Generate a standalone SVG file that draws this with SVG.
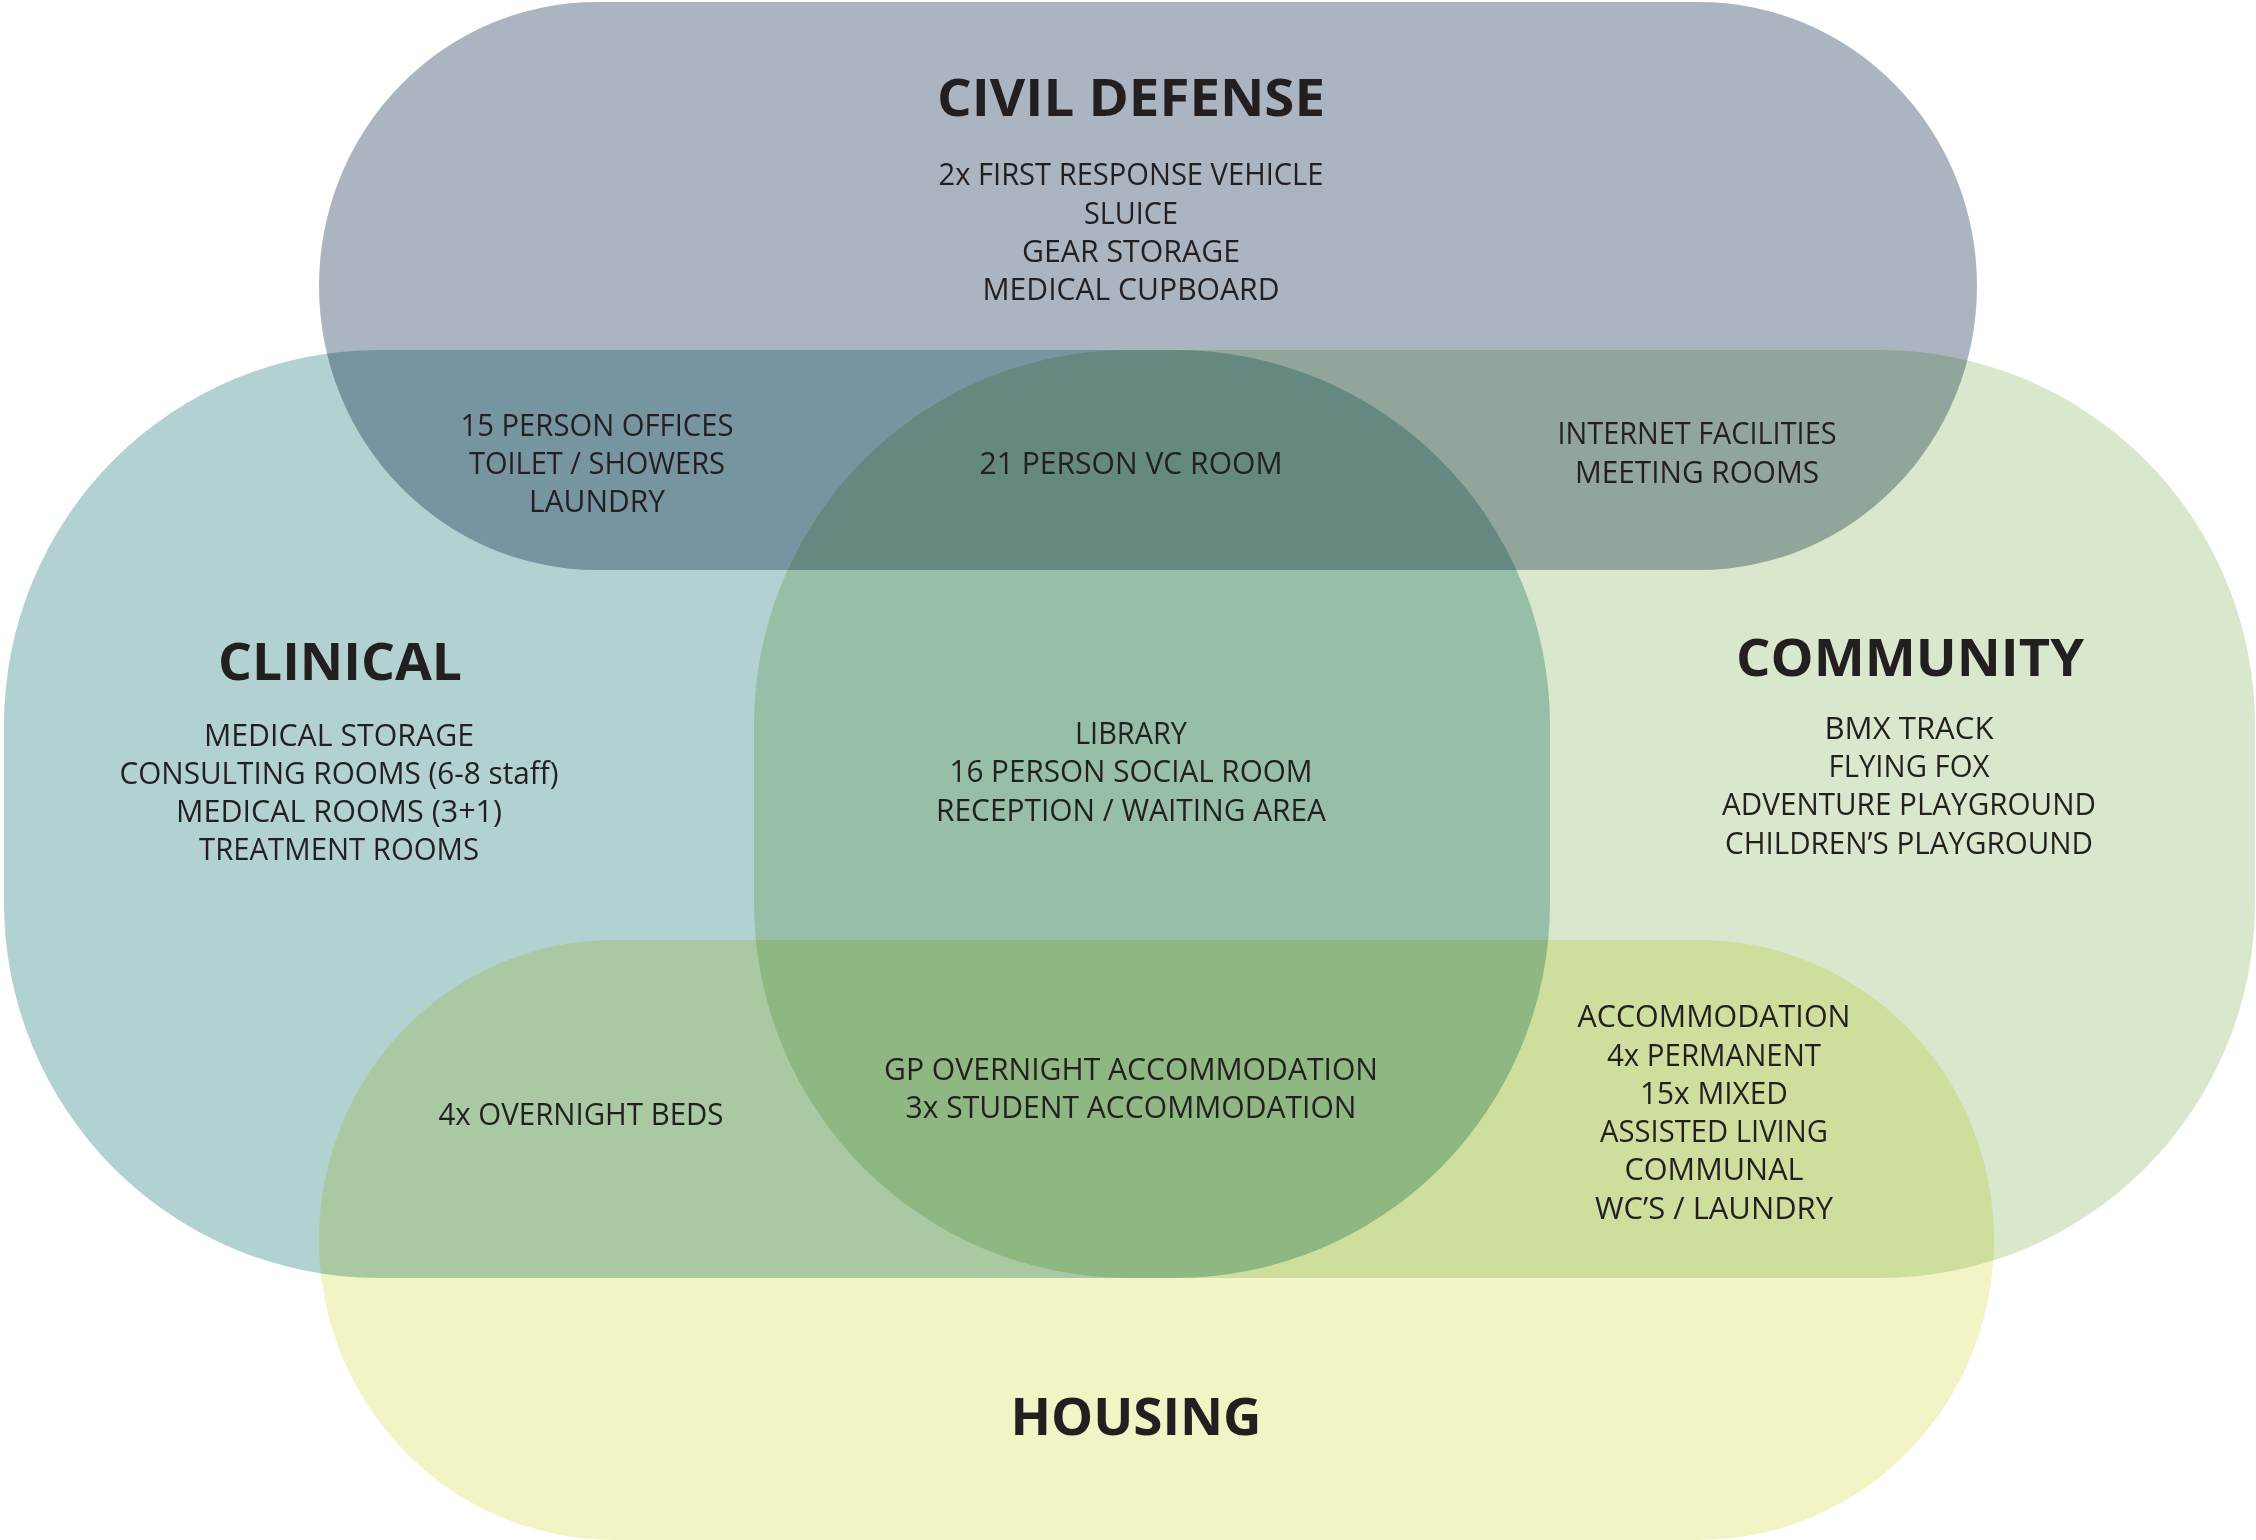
<svg xmlns="http://www.w3.org/2000/svg" width="2256" height="1540" viewBox="0 0 2256 1540">
<defs>
<style>
.set{mix-blend-mode:multiply}
.t{font-family:"Open Sans","Noto Sans","DejaVu Sans",sans-serif;fill:#231f20;text-anchor:middle}
.h{font-size:52px;font-weight:700}
.b{font-size:31px;font-weight:400}
</style>
</defs>
<rect width="2256" height="1540" fill="#ffffff"/>
<g id="civil-defense">
<rect class="set" x="319" y="2" width="1658" height="568" rx="278" ry="284" fill="#abb5c2"/>
</g>
<g id="clinical">
<rect class="set" x="4" y="350" width="1546" height="928" rx="375" ry="375" fill="#b2d2d2"/>
</g>
<g id="community">
<rect class="set" x="754" y="350" width="1501" height="928" rx="375" ry="375" fill="#d9e8cc"/>
</g>
<g id="housing">
<rect class="set" x="319" y="940" width="1675" height="600" rx="295" ry="300" fill="#f2f4c5"/>
</g>
<g id="civil-defense-label" class="t">
<text class="h" x="1131" y="116" textLength="388" lengthAdjust="spacingAndGlyphs">CIVIL DEFENSE</text>
<text class="b" x="1131" y="185" textLength="385" lengthAdjust="spacingAndGlyphs">2x FIRST RESPONSE VEHICLE</text>
<text class="b" x="1131" y="224" textLength="94" lengthAdjust="spacingAndGlyphs">SLUICE</text>
<text class="b" x="1131" y="262" textLength="218" lengthAdjust="spacingAndGlyphs">GEAR STORAGE</text>
<text class="b" x="1131" y="300" textLength="297" lengthAdjust="spacingAndGlyphs">MEDICAL CUPBOARD</text>
</g>
<g id="clinical-label" class="t">
<text class="h" x="340" y="680" textLength="244" lengthAdjust="spacingAndGlyphs">CLINICAL</text>
<text class="b" x="339" y="746" textLength="270" lengthAdjust="spacingAndGlyphs">MEDICAL STORAGE</text>
<text class="b" x="339" y="784" textLength="439" lengthAdjust="spacingAndGlyphs">CONSULTING ROOMS (6-8 staff)</text>
<text class="b" x="339" y="822" textLength="326" lengthAdjust="spacingAndGlyphs">MEDICAL ROOMS (3+1)</text>
<text class="b" x="339" y="860" textLength="280" lengthAdjust="spacingAndGlyphs">TREATMENT ROOMS</text>
</g>
<g id="community-label" class="t">
<text class="h" x="1910" y="676" textLength="348" lengthAdjust="spacingAndGlyphs">COMMUNITY</text>
<text class="b" x="1909" y="739" textLength="169" lengthAdjust="spacingAndGlyphs">BMX TRACK</text>
<text class="b" x="1909" y="777" textLength="161" lengthAdjust="spacingAndGlyphs">FLYING FOX</text>
<text class="b" x="1909" y="815" textLength="374" lengthAdjust="spacingAndGlyphs">ADVENTURE PLAYGROUND</text>
<text class="b" x="1909" y="854" textLength="368" lengthAdjust="spacingAndGlyphs">CHILDREN’S PLAYGROUND</text>
</g>
<g id="housing-label" class="t">
<text class="h" x="1136" y="1435" textLength="251" lengthAdjust="spacingAndGlyphs">HOUSING</text>
</g>
<g id="civil-clinical" class="t">
<text class="b" x="597" y="436" textLength="273" lengthAdjust="spacingAndGlyphs">15 PERSON OFFICES</text>
<text class="b" x="597" y="474" textLength="256" lengthAdjust="spacingAndGlyphs">TOILET / SHOWERS</text>
<text class="b" x="597" y="512" textLength="136" lengthAdjust="spacingAndGlyphs">LAUNDRY</text>
</g>
<g id="civil-clinical-community" class="t">
<text class="b" x="1131" y="474" textLength="303" lengthAdjust="spacingAndGlyphs">21 PERSON VC ROOM</text>
</g>
<g id="civil-community" class="t">
<text class="b" x="1697" y="444" textLength="279" lengthAdjust="spacingAndGlyphs">INTERNET FACILITIES</text>
<text class="b" x="1697" y="483" textLength="244" lengthAdjust="spacingAndGlyphs">MEETING ROOMS</text>
</g>
<g id="clinical-community" class="t">
<text class="b" x="1131" y="744" textLength="112" lengthAdjust="spacingAndGlyphs">LIBRARY</text>
<text class="b" x="1131" y="782" textLength="363" lengthAdjust="spacingAndGlyphs">16 PERSON SOCIAL ROOM</text>
<text class="b" x="1131" y="821" textLength="390" lengthAdjust="spacingAndGlyphs">RECEPTION / WAITING AREA</text>
</g>
<g id="clinical-housing" class="t">
<text class="b" x="581" y="1125" textLength="285" lengthAdjust="spacingAndGlyphs">4x OVERNIGHT BEDS</text>
</g>
<g id="clinical-community-housing" class="t">
<text class="b" x="1131" y="1080" textLength="494" lengthAdjust="spacingAndGlyphs">GP OVERNIGHT ACCOMMODATION</text>
<text class="b" x="1131" y="1118" textLength="451" lengthAdjust="spacingAndGlyphs">3x STUDENT ACCOMMODATION</text>
</g>
<g id="community-housing" class="t">
<text class="b" x="1714" y="1027" textLength="273" lengthAdjust="spacingAndGlyphs">ACCOMMODATION</text>
<text class="b" x="1714" y="1066" textLength="214" lengthAdjust="spacingAndGlyphs">4x PERMANENT</text>
<text class="b" x="1714" y="1104" textLength="148" lengthAdjust="spacingAndGlyphs">15x MIXED</text>
<text class="b" x="1714" y="1142" textLength="228" lengthAdjust="spacingAndGlyphs">ASSISTED LIVING</text>
<text class="b" x="1714" y="1180" textLength="179" lengthAdjust="spacingAndGlyphs">COMMUNAL</text>
<text class="b" x="1714" y="1219" textLength="238" lengthAdjust="spacingAndGlyphs">WC’S / LAUNDRY</text>
</g>
</svg>
